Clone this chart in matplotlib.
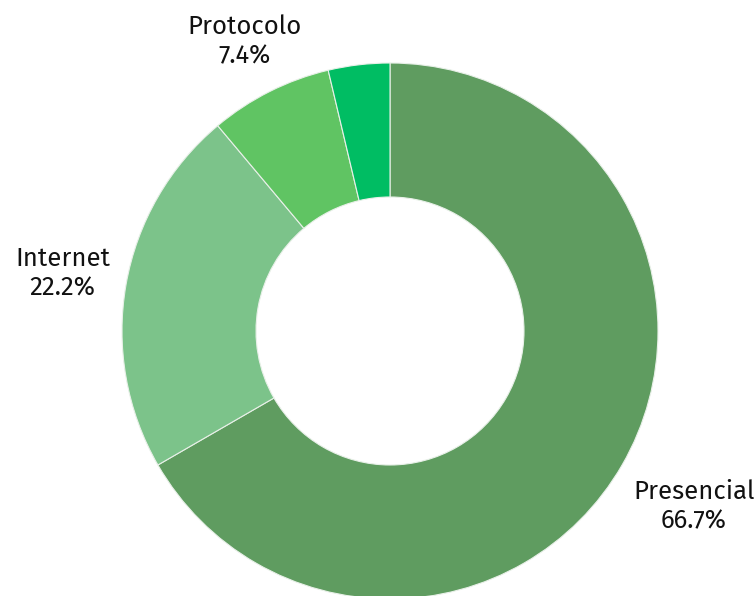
import matplotlib
matplotlib.use("Agg")
import matplotlib.pyplot as plt
import numpy as np

plt.rcParams['font.family'] = ['Fira Sans', 'Noto Sans', 'DejaVu Sans']

categories = ["Presencial", "Internet", "Protocolo", "Outro"]
values = [18, 6, 2, 1]
colors = ["#5f9c60", "#7cc38a", "#60c463", "#00bd63"]

fig = plt.figure(figsize=(7.55, 5.96), dpi=100)
ax = fig.add_axes([0, 0, 1, 1])

cx, cy, r = 390, 265, 268
wedges, _ = ax.pie(values, colors=colors, startangle=90, counterclock=False,
                   center=(cx, cy), radius=r,
                   wedgeprops=dict(width=r * 0.5, edgecolor="#e8f0e8", linewidth=0.8))

total = sum(values)
dists = [1.31, 1.24, 1.21, 1.2]
for w, cat, v, d in zip(wedges, categories, values, dists):
    pct = v / total * 100
    if pct < 5:
        continue
    ang = np.deg2rad((w.theta1 + w.theta2) / 2)
    x = cx + r * d * np.cos(ang)
    y = cy + r * d * np.sin(ang)
    ax.text(x, y, f"{cat}\n{pct:.1f}%", ha="center", va="center",
            fontsize=18.5, color="#111111", linespacing=1.25)

ax.set_xlim(0, 755)
ax.set_ylim(0, 596)
ax.set_aspect('equal')
ax.axis('off')

fig.savefig("out.png", dpi=100)
